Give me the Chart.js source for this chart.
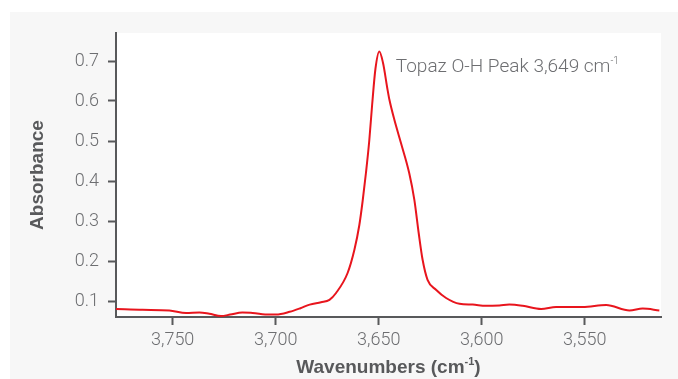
<!DOCTYPE html>
<html>
<head>
<meta charset="utf-8">
<script src="https://cdn.jsdelivr.net/npm/chart.js@4.4.1/dist/chart.umd.min.js"></script>
<style>
  html, body { margin: 0; padding: 0; background: #ffffff; }
  #wrap { width: 678px; height: 379px; position: relative; }
</style>
</head>
<body>
<div id="wrap"><canvas id="spectrum"></canvas></div>
<script>
// wavenumbers (cm-1), high to low
const wavenumbers = [3777.5, 3764.6, 3751.6, 3743.5, 3737, 3732.2, 3726.5, 3722.1, 3716.2, 3711.2,
  3703, 3699.8, 3693.2, 3688, 3683.5, 3678, 3673.9, 3670.7, 3665.1, 3661.8, 3659.4, 3657.8,
  3656.2, 3654.6, 3653.2, 3651.6, 3649.7, 3647.9, 3645.7, 3644.8, 3642.4, 3639.2, 3635.2,
  3632.7, 3630.6, 3628.7, 3626.3, 3622.2, 3617.3, 3610.8, 3604.4, 3598, 3591.4, 3586.6,
  3580.1, 3571.2, 3563.9, 3551, 3539.6, 3528.3, 3521.9, 3513.8];
const absorbance = [0.080, 0.078, 0.0765, 0.070, 0.0715, 0.068, 0.0625, 0.066, 0.0715, 0.070,
  0.066, 0.066, 0.073, 0.082, 0.091, 0.097, 0.103, 0.12, 0.17, 0.228, 0.29, 0.35,
  0.42, 0.50, 0.59, 0.68, 0.724, 0.695, 0.628, 0.603, 0.553, 0.495, 0.42,
  0.353, 0.27, 0.203, 0.153, 0.128, 0.1075, 0.093, 0.091, 0.088, 0.089, 0.091,
  0.088, 0.080, 0.085, 0.085, 0.090, 0.0765, 0.081, 0.0765];

const peakLabel = 'Topaz O-H Peak 3,649 cm';
const peakWavenumber = 3649;
const peakLabelValue = 0.69;
const xTitle = 'Wavenumbers (cm';
const yTitle = 'Absorbance';

const axisColor = '#58595b';
const tickTextColor = '#6d6e71';
const lightFont = "Roboto, 'Liberation Sans', Arial, sans-serif";
const boldFont = "'Liberation Sans', Arial, sans-serif";

// grey panel + white plot area behind the chart
const panelPlugin = {
  id: 'panel',
  beforeDraw(chart) {
    const c = chart.ctx, a = chart.chartArea;
    c.save();
    c.fillStyle = '#ffffff';
    c.fillRect(0, 0, chart.width, chart.height);
    c.fillStyle = '#f7f7f7';
    c.fillRect(10, 12, chart.width - 10, chart.height - 12);
    c.fillStyle = '#ffffff';
    c.fillRect(a.left, a.top, a.right - a.left, a.bottom - a.top);
    c.restore();
  }
};

// text with a small raised "-1"
function textWithSup(c, text, x, y, font, supFont, align) {
  c.font = font;
  const w1 = c.measureText(text).width;
  c.font = supFont;
  const w2 = c.measureText('-1').width;
  let start = x;
  if (align === 'center') {
    c.font = font;
    const w3 = text.startsWith('Wave') ? c.measureText(')').width : 0;
    start = x - (w1 + w2 + w3) / 2;
  }
  c.font = font;
  c.fillText(text, start, y);
  c.font = supFont;
  c.fillText('-1', start + w1, y - 8);
  return start + w1 + w2;
}

const labelsPlugin = {
  id: 'labels',
  afterDraw(chart) {
    const c = chart.ctx, a = chart.chartArea;
    const xs = chart.scales.x, ys = chart.scales.y;
    c.save();
    c.textBaseline = 'alphabetic';
    c.textAlign = 'left';
    // peak annotation
    c.fillStyle = tickTextColor;
    const px = xs.getPixelForValue(peakWavenumber) + 15;
    const py = ys.getPixelForValue(peakLabelValue) + 7;
    textWithSup(c, peakLabel, px, py, "300 19px " + lightFont, "300 10px " + lightFont, 'left');
    // x axis title
    c.fillStyle = axisColor;
    const end = textWithSup(c, xTitle, (a.left + a.right) / 2, 373, "bold 19px " + boldFont, "bold 11px " + boldFont, 'center');
    c.font = "bold 19px " + boldFont;
    c.fillText(')', end, 373);
    c.restore();
  }
};

const ctx = document.getElementById('spectrum').getContext('2d');
const chart = new Chart(ctx, {
  type: 'line',
  data: {
    datasets: [{
      data: wavenumbers.map((w, i) => ({ x: w, y: absorbance[i] })),
      borderColor: '#e8151d',
      borderWidth: 2,
      pointRadius: 0,
      fill: false,
      cubicInterpolationMode: 'monotone'
    }]
  },
  options: {
    responsive: true,
    maintainAspectRatio: false,
    animation: false,
    layout: { padding: { top: 33, right: 17, bottom: 0, left: 0 } },
    plugins: { legend: { display: false }, tooltip: { enabled: false } },
    scales: {
      x: {
        type: 'linear',
        reverse: true,
        min: 3513,
        max: 3777.5,
        afterFit: (scale) => { scale.height = 62; },
        border: { color: axisColor, width: 2 },
        grid: { drawOnChartArea: false, tickLength: 8, tickColor: axisColor, tickWidth: 2 },
        ticks: {
          stepSize: 50,
          includeBounds: false,
          padding: 5,
          color: tickTextColor,
          font: { family: lightFont, size: 18, weight: '300' },
          maxRotation: 0
        }
      },
      y: {
        min: 0.06,
        max: 0.77,
        afterFit: (scale) => { scale.width = 116; },
        border: { color: axisColor, width: 2 },
        grid: { drawOnChartArea: false, tickLength: 8, tickColor: axisColor, tickWidth: 2 },
        ticks: {
          stepSize: 0.1,
          includeBounds: false,
          padding: 9,
          color: tickTextColor,
          font: { family: lightFont, size: 18, weight: '300' }
        },
        title: {
          display: true,
          text: yTitle,
          color: axisColor,
          font: { family: boldFont, size: 19, weight: 'bold' },
          padding: { top: 26, bottom: 0 }
        }
      }
    }
  },
  plugins: [panelPlugin, labelsPlugin]
});
</script>
</body>
</html>
